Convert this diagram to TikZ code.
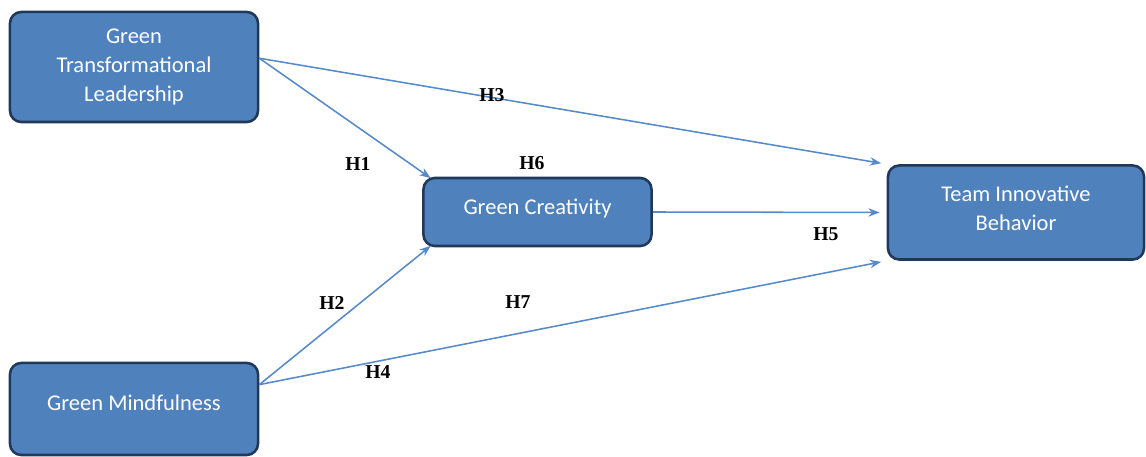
\documentclass[tikz,border=0pt]{standalone}
\usepackage{fontspec}
\setmainfont{Carlito}
\newfontfamily\hypfont{Liberation Serif}
\usepackage{tikz}
\usetikzlibrary{arrows.meta,shapes}
\definecolor{boxfill}{rgb}{0.30980,   0.50588,   0.74118}
\definecolor{boxline}{rgb}{0.12549,   0.21961,   0.35294}
\definecolor{arrowline}{rgb}{0.33725,   0.54118,   0.78431}

\begin{document}
\begin{tikzpicture}[x=0.025cm,y=-0.025cm]
\tikzset{construct/.style={rectangle, rounded corners=8pt, draw=boxline, line width=1.8pt,
 fill=boxfill, text=white, align=center, inner sep=2pt},
 hypothesis/.style={-{Stealth[length=8pt,width=6pt]}, draw=arrowline, line width=1.1pt},
 hyplabel/.style={font=\hypfont\bfseries\fontsize{14pt}{14pt}\selectfont, inner sep=1pt}}
\fontsize{16pt}{20.5pt}
\selectfont
\useasboundingbox (0,0) rectangle (1146,457);
\node (gtl) at (134,67) [construct, minimum width=6.2cm, minimum height=2.75cm] {Green\\Transformational\\Leadership};
\node (gc) at (537.5,212) [construct, minimum width=5.7cm, minimum height=1.7cm] {\raisebox{8pt}{Green Creativity}};
\node (tib) at (1016,212.5) [construct, minimum width=6.4cm, minimum height=2.35cm] {Team Innovative\\Behavior\\[-14.5pt]};
\node (gm) at (134,409) [construct, minimum width=6.2cm, minimum height=2.3cm] {\raisebox{8.5pt}{Green Mindfulness}};

\draw [hypothesis] (gtl.4) -- ([xshift=6pt,yshift=-1pt]gc.north west);
\draw [hypothesis, shorten >=4pt] (gtl.4) -- (tib.north west);
\draw [hypothesis, shorten >=5pt] (gc.east) -- (tib.west);
\draw [hypothesis] (gm.11) -- ([xshift=6pt,yshift=1pt]gc.south west);
\draw [hypothesis, shorten >=4pt] (gm.11) -- (tib.south west);

\node (h1) at (358,164) [hyplabel] {H1};
\node (h2) at (332,303) [hyplabel] {H2};
\node (h3) at (492,95) [hyplabel] {H3};
\node (h4) at (378,372) [hyplabel] {H4};
\node (h5) at (826,234) [hyplabel] {H5};
\node (h6) at (532,163) [hyplabel] {H6};
\node (h7) at (518,302) [hyplabel] {H7};

\end{tikzpicture}
\end{document}
